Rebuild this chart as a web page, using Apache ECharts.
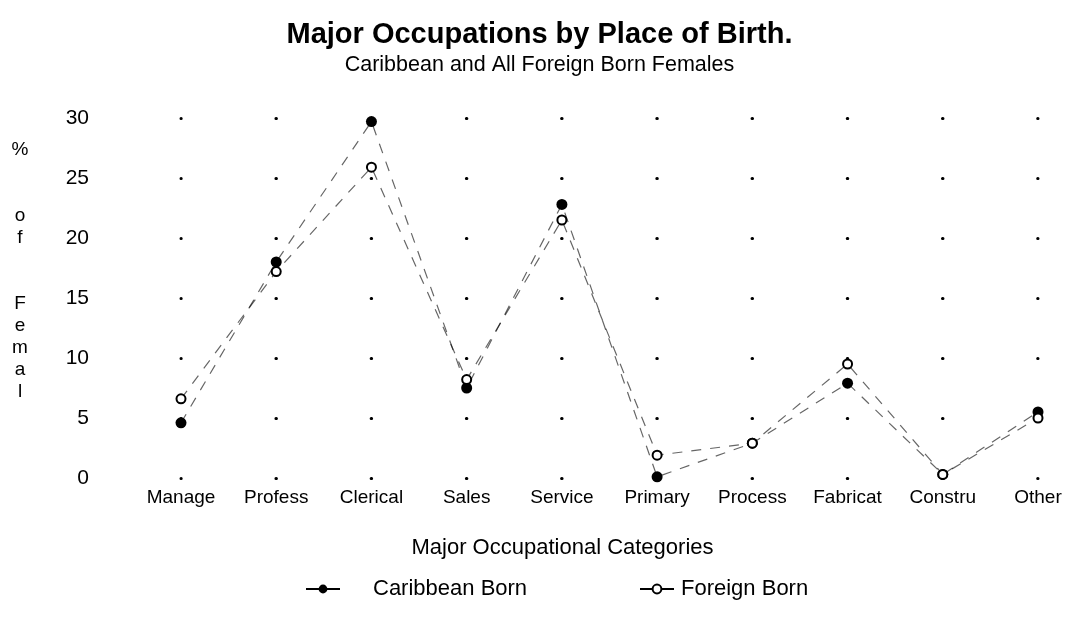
<!DOCTYPE html>
<html><head><meta charset="utf-8">
<script src="https://cdn.jsdelivr.net/npm/echarts@6/dist/echarts.min.js"></script>
<style>html,body{margin:0;padding:0;background:#fff}#c{width:1079px;height:619px}</style>
</head><body><div id="c"></div>
<script>
const categories = ['Manage','Profess','Clerical','Sales','Service','Primary','Process','Fabricat','Constru','Other'];
const caribbeanBorn = [4.6, 18.0, 29.7, 7.5, 22.8, 0.1, 2.9, 7.9, 0.3, 5.5];
const foreignBorn   = [6.6, 17.2, 25.9, 8.2, 21.5, 1.9, 2.9, 9.5, 0.3, 5.0];
const yTicks = [0, 5, 10, 15, 20, 25, 30];
const seriesNames = ['Caribbean Born', 'Foreign Born'];
const yAxisTitle = '%\n\n\no\nf\n\n\nF\ne\nm\na\nl';

const FONT = 'Liberation Sans';
const legendLine = { type: 'solid', opacity: 1, width: 2, color: '#000' };
const chart = echarts.init(document.getElementById('c'));
chart.setOption({
  backgroundColor: '#fff',
  animation: false,
  textStyle: { fontFamily: FONT, color: '#000' },
  title: {
    text: 'Major Occupations by Place of Birth.',
    subtext: 'Caribbean and All Foreign Born Females',
    left: 'center', top: 15, itemGap: 5,
    textStyle: { fontFamily: FONT, fontSize: 29, fontWeight: 'bold', color: '#000' },
    subtextStyle: { fontFamily: FONT, fontSize: 21.5, color: '#000' }
  },
  legend: [
    { top: 573, left: 300, itemWidth: 34, itemHeight: 11, lineStyle: legendLine,
      textStyle: { fontFamily: FONT, fontSize: 22, color: '#000', padding: [0, 0, 0, 28] },
      data: [seriesNames[0]] },
    { top: 573, left: 634, itemWidth: 34, itemHeight: 11, lineStyle: legendLine,
      textStyle: { fontFamily: FONT, fontSize: 22, color: '#000', padding: [0, 0, 0, 2] },
      data: [seriesNames[1]] }
  ],
  graphic: [{
    type: 'text', x: 20, y: 139,
    style: { text: yAxisTitle, font: '19px "Liberation Sans"', fill: '#000',
      lineHeight: 22, align: 'center', verticalAlign: 'top' }
  }],
  grid: { left: 181, right: 41, top: 118, bottom: 141, outerBoundsMode: 'none' },
  xAxis: {
    type: 'category', data: categories, boundaryGap: false,
    name: 'Major Occupational Categories', nameLocation: 'middle', nameGap: 59,
    nameTextStyle: { fontFamily: FONT, fontSize: 22, color: '#000', padding: [0, 94, 0, 0] },
    axisLine: { show: false }, axisTick: { show: false },
    axisLabel: { fontFamily: FONT, fontSize: 19, color: '#000', margin: 10 },
    splitLine: { show: false }
  },
  yAxis: {
    type: 'value', min: 0, max: 30, interval: 5,
    axisLine: { show: false }, axisTick: { show: false },
    axisLabel: { fontFamily: FONT, fontSize: 21, color: '#000', margin: 92, align: 'right',
      formatter: v => yTicks.includes(v) ? String(v) : '' },
    splitLine: { show: true, lineStyle: { color: '#000', width: 3, cap: 'round',
      type: [0.5, 94.7222], dashOffset: 0.3 } }
  },
  series: [
    { name: seriesNames[0], type: 'line', data: caribbeanBorn,
      symbol: 'circle', symbolSize: 11,
      itemStyle: { color: '#000' },
      lineStyle: { color: '#000', width: 1.2, type: [10, 9], opacity: 0.6 } },
    { name: seriesNames[1], type: 'line', data: foreignBorn,
      symbol: 'emptyCircle', symbolSize: 9,
      itemStyle: { color: '#000', borderWidth: 3, borderColor: '#000' },
      lineStyle: { color: '#000', width: 1.2, type: [10, 9], opacity: 0.6 } }
  ]
});
</script></body></html>
